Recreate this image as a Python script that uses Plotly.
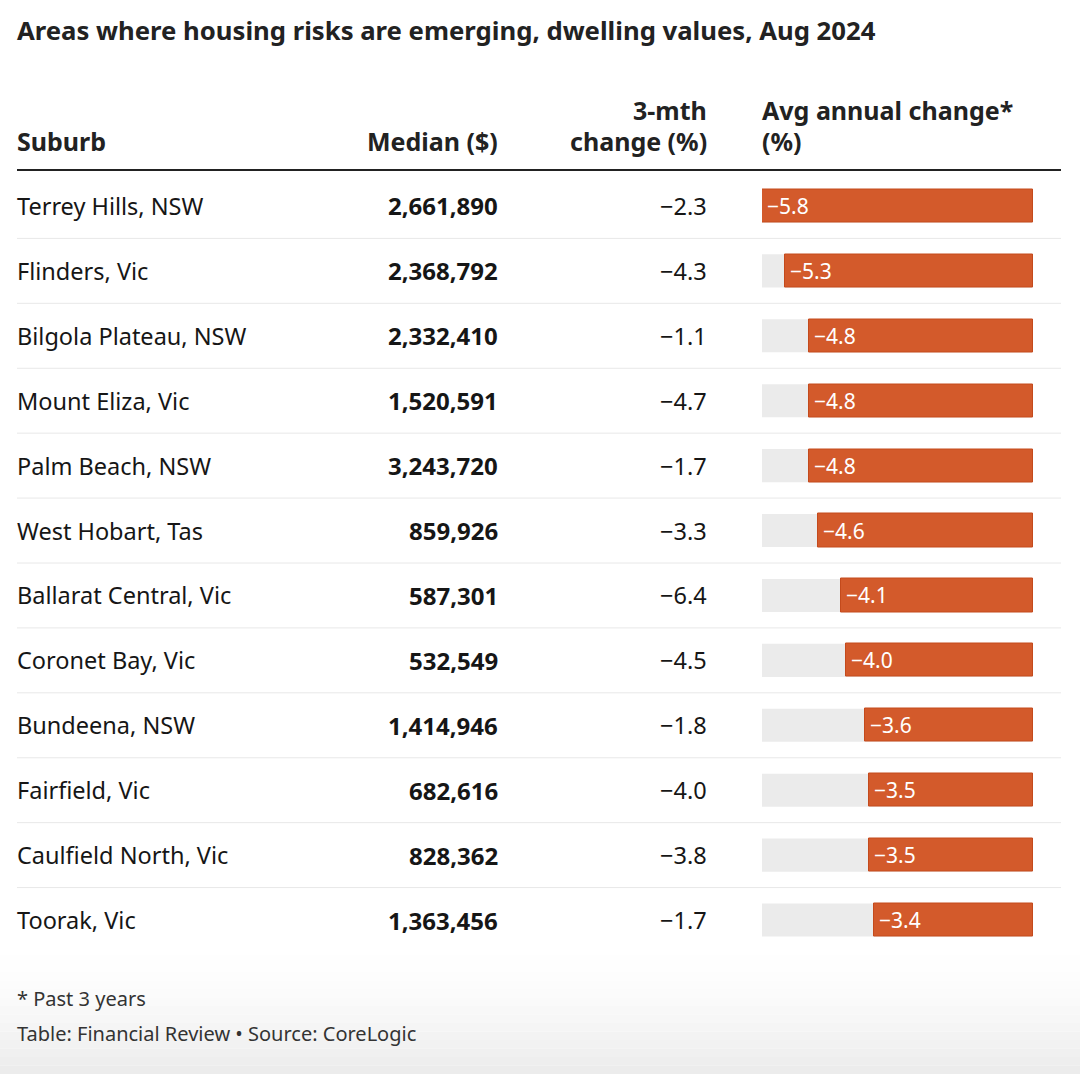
import plotly.graph_objects as go

# ---------------- data ----------------
suburbs = ["Terrey Hills, NSW", "Flinders, Vic", "Bilgola Plateau, NSW", "Mount Eliza, Vic",
           "Palm Beach, NSW", "West Hobart, Tas", "Ballarat Central, Vic", "Coronet Bay, Vic",
           "Bundeena, NSW", "Fairfield, Vic", "Caulfield North, Vic", "Toorak, Vic"]
median_values = [2661890, 2368792, 2332410, 1520591, 3243720, 859926, 587301, 532549,
                 1414946, 682616, 828362, 1363456]
change_3mth = [-2.3, -4.3, -1.1, -4.7, -1.7, -3.3, -6.4, -4.5, -1.8, -4.0, -3.8, -1.7]
avg_annual_change = [-5.8, -5.3, -4.8, -4.8, -4.8, -4.6, -4.1, -4.0, -3.6, -3.5, -3.5, -3.4]

title_text = "Areas where housing risks are emerging, dwelling values, Aug 2024"
footnote = "* Past 3 years"
source_text = "Table: Financial Review \u2022 Source: CoreLogic"

# ---------------- layout helpers ----------------
W, H = 1080, 1074
FONT = "Noto Sans"
TEXT = "#161616"
ORANGE = "#d35a2b"
ORANGE_EDGE = "#c44a1c"
GREY_BG = "#ebebeb"


def px(x):
    return x / W


def py(y):
    return 1 - y / H


def fmt(v):
    return ("\u2212" if v < 0 else "") + f"{abs(v):.1f}"


n = len(suburbs)
row_top, row_bot = 173.5, 952.5

fig = go.Figure()
fig.add_trace(go.Bar(
    x=avg_annual_change,
    y=list(range(n)),
    orientation="h",
    width=0.51,
    marker=dict(color=ORANGE, line=dict(color=ORANGE_EDGE, width=1)),
    hoverinfo="skip",
    showlegend=False,
))

shapes = []
annotations = []

# grey background tracks
for i in range(n):
    shapes.append(dict(type="rect", xref="x domain", yref="y", x0=0, x1=1,
                       y0=i - 0.255, y1=i + 0.255, fillcolor=GREY_BG,
                       line=dict(width=0), layer="below"))

# row separators
for i in range(n - 1):
    shapes.append(dict(type="line", xref="paper", yref="y", x0=px(17), x1=px(1061),
                       y0=i + 0.5, y1=i + 0.5, line=dict(color="#e8e8e8", width=1),
                       layer="below"))

# header rule
shapes.append(dict(type="line", xref="paper", yref="paper", x0=px(17), x1=px(1061),
                   y0=py(170), y1=py(170), line=dict(color="#222222", width=2)))

# bottom gradient
steps = 14
for k in range(steps):
    y0 = 955 + k * (H - 955) / steps
    y1 = 955 + (k + 1) * (H - 955) / steps
    g = int(255 - (255 - 236) * ((k + 1) / steps) ** 1.6)
    shapes.append(dict(type="rect", xref="paper", yref="paper", x0=0, x1=1,
                       y0=py(y1), y1=py(y0), fillcolor=f"rgb({g},{g},{g})",
                       line=dict(width=0), layer="below"))

# title
annotations.append(dict(text=f"<b>{title_text}</b>", x=px(15), y=py(31), xref="paper",
                        yref="paper", xanchor="left", yanchor="middle", showarrow=False,
                        font=dict(family=FONT, size=25.7, color="#222222")))

# headers
hdr = dict(family=FONT, size=25, color="#222222")
annotations += [
    dict(text="<b>Suburb</b>", x=px(15), y=py(141), xanchor="left"),
    dict(text="<b>Median ($)</b>", x=px(500), y=py(141), xanchor="right"),
    dict(text="<b>3-mth</b>", x=px(709), y=py(110), xanchor="right"),
    dict(text="<b>change (%)</b>", x=px(709), y=py(141), xanchor="right"),
    dict(text="<b>Avg annual change*</b>", x=px(760), y=py(110), xanchor="left"),
    dict(text="<b>(%)</b>", x=px(760), y=py(141), xanchor="left"),
]
for a in annotations[-6:]:
    a.update(xref="paper", yref="paper", yanchor="middle", showarrow=False, font=hdr)

# table cells
cell = dict(family=FONT, size=23.5, color=TEXT)
cell_bold = dict(family=FONT, size=24, color=TEXT)
for i in range(n):
    annotations.append(dict(text=suburbs[i], x=px(15), y=i, xref="paper", yref="y",
                            xanchor="left", yanchor="middle", showarrow=False, font=cell))
    annotations.append(dict(text=f"<b>{median_values[i]:,}</b>", x=px(500), y=i, xref="paper",
                            yref="y", xanchor="right", yanchor="middle", showarrow=False,
                            font=cell_bold))
    annotations.append(dict(text=fmt(change_3mth[i]), x=px(709), y=i, xref="paper", yref="y",
                            xanchor="right", yanchor="middle", showarrow=False, font=cell))
    annotations.append(dict(text=fmt(avg_annual_change[i]), x=avg_annual_change[i], y=i,
                            xref="x", yref="y", xanchor="left", yanchor="middle", xshift=3,
                            showarrow=False,
                            font=dict(family=FONT, size=21, color="white")))

# footer
foot = dict(family=FONT, size=20, color="#333333")
annotations.append(dict(text=footnote, x=px(15), y=py(998), xref="paper", yref="paper",
                        xanchor="left", yanchor="middle", showarrow=False, font=foot))
annotations.append(dict(text=source_text, x=px(15), y=py(1033), xref="paper", yref="paper",
                        xanchor="left", yanchor="middle", showarrow=False, font=foot))

fig.update_layout(
    width=W, height=H,
    margin=dict(l=0, r=0, t=0, b=0),
    paper_bgcolor="white", plot_bgcolor="rgba(0,0,0,0)",
    shapes=shapes, annotations=annotations,
    xaxis=dict(domain=[px(762), px(1033)], range=[min(avg_annual_change), 0],
               visible=False, fixedrange=True),
    yaxis=dict(domain=[py(row_bot), py(row_top)], range=[n - 0.5, -0.5],
               visible=False, fixedrange=True),
    bargap=0,
    font=dict(family=FONT),
)

fig.write_html("out.html", config={"displayModeBar": False},
               post_script="document.body.style.margin='0';document.body.style.overflow='hidden';")
